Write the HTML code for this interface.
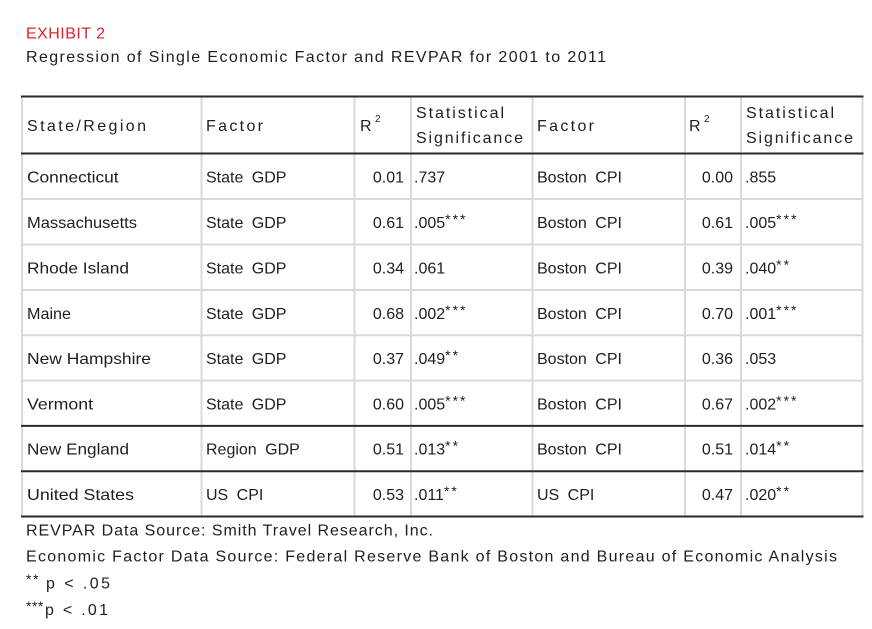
<!DOCTYPE html>
<html>
<head>
<meta charset="utf-8">
<style>
  html, body { margin: 0; padding: 0; background: #ffffff; }
  svg { display: block; }
  text { font-family: "Liberation Sans", "DejaVu Sans", sans-serif; fill: #1e1e1e; }
</style>
</head>
<body>
<svg width="872" height="629" viewBox="0 0 872 629" xmlns="http://www.w3.org/2000/svg">
  <rect x="0" y="0" width="872" height="629" fill="#ffffff"/>

  <!-- Title -->
  <text x="26" y="38.3" font-size="16" style="fill:#e3202b" textLength="79" lengthAdjust="spacing">EXHIBIT 2</text>
  <text x="26" y="62" font-size="16" textLength="580" lengthAdjust="spacing">Regression of Single Economic Factor and REVPAR for 2001 to 2011</text>

  <!-- Light grid lines -->
  <g stroke="#d9d9d9" stroke-width="2">
    <line x1="22" y1="96.5" x2="22" y2="516.5"/>
    <line x1="201.5" y1="96.5" x2="201.5" y2="516.5"/>
    <line x1="354.5" y1="96.5" x2="354.5" y2="516.5"/>
    <line x1="411" y1="96.5" x2="411" y2="516.5"/>
    <line x1="532.5" y1="96.5" x2="532.5" y2="516.5"/>
    <line x1="685" y1="96.5" x2="685" y2="516.5"/>
    <line x1="741" y1="96.5" x2="741" y2="516.5"/>
    <line x1="862.5" y1="96.5" x2="862.5" y2="516.5"/>
    <line x1="22" y1="199" x2="862.5" y2="199"/>
    <line x1="22" y1="244.5" x2="862.5" y2="244.5"/>
    <line x1="22" y1="290" x2="862.5" y2="290"/>
    <line x1="22" y1="335.3" x2="862.5" y2="335.3"/>
    <line x1="22" y1="380.6" x2="862.5" y2="380.6"/>
  </g>
  <!-- Dark rules -->
  <g stroke="#2a2a2a" stroke-width="2">
    <line x1="21" y1="96.5" x2="863.5" y2="96.5"/>
    <line x1="21" y1="153.5" x2="863.5" y2="153.5"/>
    <line x1="21" y1="425.9" x2="863.5" y2="425.9"/>
    <line x1="21" y1="471.2" x2="863.5" y2="471.2"/>
    <line x1="21" y1="516.5" x2="863.5" y2="516.5"/>
  </g>

  <!-- Header -->
  <text x="27" y="131" font-size="16" textLength="119" lengthAdjust="spacing">State/Region</text>
  <text x="206" y="131" font-size="16" textLength="57" lengthAdjust="spacing">Factor</text>
  <text x="360" y="131" font-size="16">R</text>
  <text x="375" y="122" font-size="10">2</text>
  <text x="416" y="118" font-size="16" textLength="88" lengthAdjust="spacing">Statistical</text>
  <text x="416" y="143" font-size="16" textLength="107" lengthAdjust="spacing">Significance</text>
  <text x="537" y="131" font-size="16" textLength="57" lengthAdjust="spacing">Factor</text>
  <text x="689" y="131" font-size="16">R</text>
  <text x="704" y="122" font-size="10">2</text>
  <text x="746" y="118" font-size="16" textLength="88" lengthAdjust="spacing">Statistical</text>
  <text x="746" y="143" font-size="16" textLength="107" lengthAdjust="spacing">Significance</text>

  <!-- Column 0 -->
  <g font-size="16">
    <text x="27" y="182.3" textLength="91.6" lengthAdjust="spacingAndGlyphs">Connecticut</text>
    <text x="27" y="227.8" textLength="110" lengthAdjust="spacingAndGlyphs">Massachusetts</text>
    <text x="27" y="273.3" textLength="102" lengthAdjust="spacingAndGlyphs">Rhode Island</text>
    <text x="27" y="318.8" textLength="44" lengthAdjust="spacingAndGlyphs">Maine</text>
    <text x="27" y="364.1" textLength="124" lengthAdjust="spacingAndGlyphs">New Hampshire</text>
    <text x="27" y="409.4" textLength="66" lengthAdjust="spacingAndGlyphs">Vermont</text>
    <text x="27" y="454.7" textLength="102" lengthAdjust="spacingAndGlyphs">New England</text>
    <text x="27" y="500" textLength="107" lengthAdjust="spacingAndGlyphs">United States</text>
  </g>

  <!-- Column 1 factor -->
  <g font-size="16" style="word-spacing:4px">
    <text x="206" y="182.3">State GDP</text>
    <text x="206" y="227.8">State GDP</text>
    <text x="206" y="273.3">State GDP</text>
    <text x="206" y="318.8">State GDP</text>
    <text x="206" y="364.1">State GDP</text>
    <text x="206" y="409.4">State GDP</text>
    <text x="206" y="454.7">Region GDP</text>
    <text x="206" y="500">US CPI</text>
  </g>

  <!-- R2 left -->
  <g font-size="16" text-anchor="end">
    <text x="404" y="182.3">0.01</text>
    <text x="404" y="227.8">0.61</text>
    <text x="404" y="273.3">0.34</text>
    <text x="404" y="318.8">0.68</text>
    <text x="404" y="364.1">0.37</text>
    <text x="404" y="409.4">0.60</text>
    <text x="404" y="454.7">0.51</text>
    <text x="404" y="500">0.53</text>
  </g>

  <!-- Sig left -->
  <g font-size="16">
    <text x="414" y="182.3">.737</text>
    <text x="414" y="227.8">.005<tspan font-size="14" dy="-4" letter-spacing="2">***</tspan></text>
    <text x="414" y="273.3">.061</text>
    <text x="414" y="318.8">.002<tspan font-size="14" dy="-4" letter-spacing="2">***</tspan></text>
    <text x="414" y="364.1">.049<tspan font-size="14" dy="-4" letter-spacing="2">**</tspan></text>
    <text x="414" y="409.4">.005<tspan font-size="14" dy="-4" letter-spacing="2">***</tspan></text>
    <text x="414" y="454.7">.013<tspan font-size="14" dy="-4" letter-spacing="2">**</tspan></text>
    <text x="414" y="500">.011<tspan font-size="14" dy="-4" letter-spacing="2">**</tspan></text>
  </g>

  <!-- Column 4 factor -->
  <g font-size="16" style="word-spacing:4px">
    <text x="537" y="182.3">Boston CPI</text>
    <text x="537" y="227.8">Boston CPI</text>
    <text x="537" y="273.3">Boston CPI</text>
    <text x="537" y="318.8">Boston CPI</text>
    <text x="537" y="364.1">Boston CPI</text>
    <text x="537" y="409.4">Boston CPI</text>
    <text x="537" y="454.7">Boston CPI</text>
    <text x="537" y="500">US CPI</text>
  </g>

  <!-- R2 right -->
  <g font-size="16" text-anchor="end">
    <text x="733" y="182.3">0.00</text>
    <text x="733" y="227.8">0.61</text>
    <text x="733" y="273.3">0.39</text>
    <text x="733" y="318.8">0.70</text>
    <text x="733" y="364.1">0.36</text>
    <text x="733" y="409.4">0.67</text>
    <text x="733" y="454.7">0.51</text>
    <text x="733" y="500">0.47</text>
  </g>

  <!-- Sig right -->
  <g font-size="16">
    <text x="745" y="182.3">.855</text>
    <text x="745" y="227.8">.005<tspan font-size="14" dy="-4" letter-spacing="2">***</tspan></text>
    <text x="745" y="273.3">.040<tspan font-size="14" dy="-4" letter-spacing="2">**</tspan></text>
    <text x="745" y="318.8">.001<tspan font-size="14" dy="-4" letter-spacing="2">***</tspan></text>
    <text x="745" y="364.1">.053</text>
    <text x="745" y="409.4">.002<tspan font-size="14" dy="-4" letter-spacing="2">***</tspan></text>
    <text x="745" y="454.7">.014<tspan font-size="14" dy="-4" letter-spacing="2">**</tspan></text>
    <text x="745" y="500">.020<tspan font-size="14" dy="-4" letter-spacing="2">**</tspan></text>
  </g>

  <!-- Footnotes -->
  <text x="26" y="535.7" font-size="16" textLength="407" lengthAdjust="spacing">REVPAR Data Source: Smith Travel Research, Inc.</text>
  <text x="26" y="561.7" font-size="16" textLength="811" lengthAdjust="spacing">Economic Factor Data Source: Federal Reserve Bank of Boston and Bureau of Economic Analysis</text>
  <text x="26" y="584" font-size="14" letter-spacing="1.5">**</text>
  <text x="46" y="588.3" font-size="16" textLength="64" lengthAdjust="spacing">p &lt; .05</text>
  <text x="26" y="611" font-size="14" letter-spacing="0.5">***</text>
  <text x="45" y="615" font-size="16" textLength="63" lengthAdjust="spacing">p &lt; .01</text>
</svg>
</body>
</html>
